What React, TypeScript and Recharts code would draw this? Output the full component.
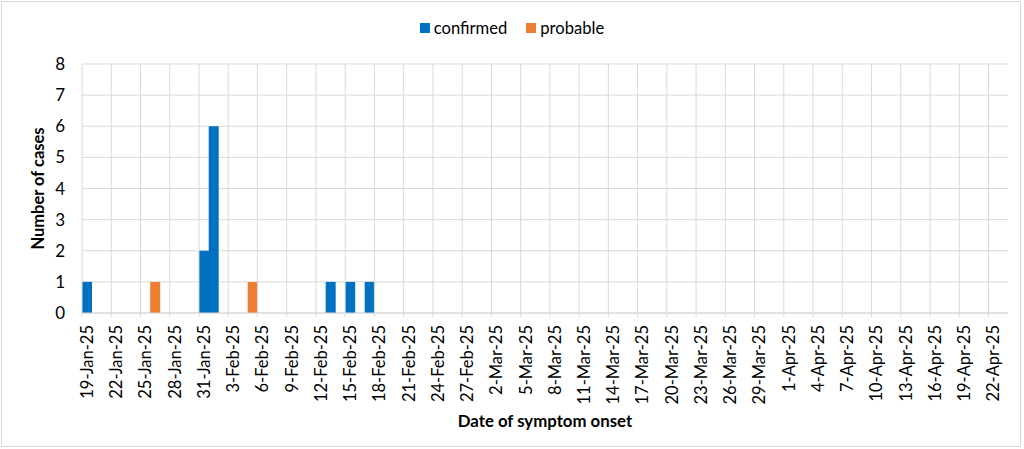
import React from "react";
import { BarChart, Bar, XAxis, YAxis, CartesianGrid, Legend, ReferenceLine } from "recharts";

const MONTHS = ["Jan", "Feb", "Mar", "Apr"];
const START = { month: 0, day: 19 };
const DAY_COUNT = 95; // 19-Jan-25 .. 23-Apr-25
const MONTH_DAYS = [31, 28, 31, 30];

// category labels (one per day)
const dates: string[] = [];
{
  let m = START.month;
  let d = START.day;
  for (let i = 0; i < DAY_COUNT; i++) {
    dates.push(`${d}-${MONTHS[m]}-25`);
    d++;
    if (d > MONTH_DAYS[m]) {
      d = 1;
      m++;
    }
  }
}

// non-zero counts
const confirmedDates = ["19-Jan-25", "31-Jan-25", "1-Feb-25", "13-Feb-25", "15-Feb-25", "17-Feb-25"];
const confirmedValues = [1, 2, 6, 1, 1, 1];
const probableDates = ["26-Jan-25", "5-Feb-25"];
const probableValues = [1, 1];

const yTicks = [0, 1, 2, 3, 4, 5, 6, 7, 8];
const gridDates = dates.filter((_, i) => i % 3 === 0);

const data = dates.map((date) => {
  const ci = confirmedDates.indexOf(date);
  const pi = probableDates.indexOf(date);
  return {
    date,
    confirmed: ci >= 0 ? confirmedValues[ci] : 0,
    probable: pi >= 0 ? probableValues[pi] : 0,
  };
});

const FONT = "Lato, 'Open Sans', sans-serif";
const BLUE = "#0070C0";
const ORANGE = "#ED7D31";
const GRID = "#D9D9D9";

const XTick = (props: any) => {
  const { x, y, payload, index } = props;
  const half = payload && typeof payload.offset === "number" ? payload.offset : 0;
  if (index % 3 !== 0) return null;
  return (
    <g>
      <line x1={x - half} x2={x - half} y1={y} y2={y + 4} stroke={GRID} strokeWidth={1} />
      <text
        x={x}
        y={y + 12}
        transform={`rotate(-90, ${x}, ${y + 12})`}
        textAnchor="end"
        dominantBaseline="central"
        fill="#000"
        fontSize={16.5}
        fontFamily={FONT}
      >
        {payload.value}
      </text>
    </g>
  );
};

const LegendContent = () => (
  <div
    style={{
      display: "flex",
      justifyContent: "center",
      alignItems: "center",
      fontFamily: FONT,
      fontSize: 16.6,
      color: "#000",
    }}
  >
    {[
      { name: "confirmed", color: BLUE },
      { name: "probable", color: ORANGE },
    ].map((it, i) => (
      <div key={it.name} style={{ display: "flex", alignItems: "center", marginLeft: i ? 19 : 0 }}>
        <span style={{ width: 10, height: 10, background: it.color, display: "inline-block", marginRight: 4 }} />
        <span>{it.name}</span>
      </div>
    ))}
  </div>
);

export default function App() {
  return (
    <div
      style={{
        position: "absolute",
        left: 0,
        top: 0,
        width: 1024,
        height: 449,
        background: "#fff",
      }}
    >
      <div
        style={{
          position: "absolute",
          left: 1,
          top: 1,
          width: 1020,
          height: 446,
          border: "1px solid #D9D9D9",
          boxSizing: "border-box",
          pointerEvents: "none",
        }}
      />
      <BarChart
        width={1024}
        height={449}
        data={data}
        margin={{ top: 64, right: 16, bottom: 0, left: 0 }}
        barCategoryGap={0}
      >
        <CartesianGrid vertical={false} stroke={GRID} strokeWidth={1} />
        {gridDates.map((d) => (
          <ReferenceLine key={d} x={d} position="start" stroke={GRID} strokeWidth={1} />
        ))}
        <XAxis
          dataKey="date"
          interval={0}
          height={136}
          tickSize={0}
          tickMargin={0}
          tick={<XTick />}
          axisLine={{ stroke: GRID }}
          tickLine={false}
          label={{
            value: "Date of symptom onset",
            position: "insideBottom",
            offset: 22,
            style: { fontFamily: FONT, fontSize: 16.8, fontWeight: 700, fill: "#000" },
          }}
        />
        <YAxis
          width={82}
          domain={[0, 8]}
          ticks={yTicks}
          interval={0}
          axisLine={false}
          tickLine={false}
          tickSize={0}
          tickMargin={17}
          tick={{ fontFamily: FONT, fontSize: 17, fill: "#000" }}
          label={{
            value: "Number of cases",
            angle: -90,
            position: "insideLeft",
            offset: 38,
            style: { fontFamily: FONT, fontSize: 16.5, fontWeight: 700, fill: "#000", textAnchor: "middle" },
          }}
        />
        <Legend
          verticalAlign="middle"
          align="center"
          layout="horizontal"
          content={<LegendContent />}
          wrapperStyle={{ top: 18, left: 0, width: 1024 }}
        />
        <Bar dataKey="confirmed" stackId="a" fill={BLUE} isAnimationActive={false} />
        <Bar dataKey="probable" stackId="a" fill={ORANGE} isAnimationActive={false} />
      </BarChart>
    </div>
  );
}
